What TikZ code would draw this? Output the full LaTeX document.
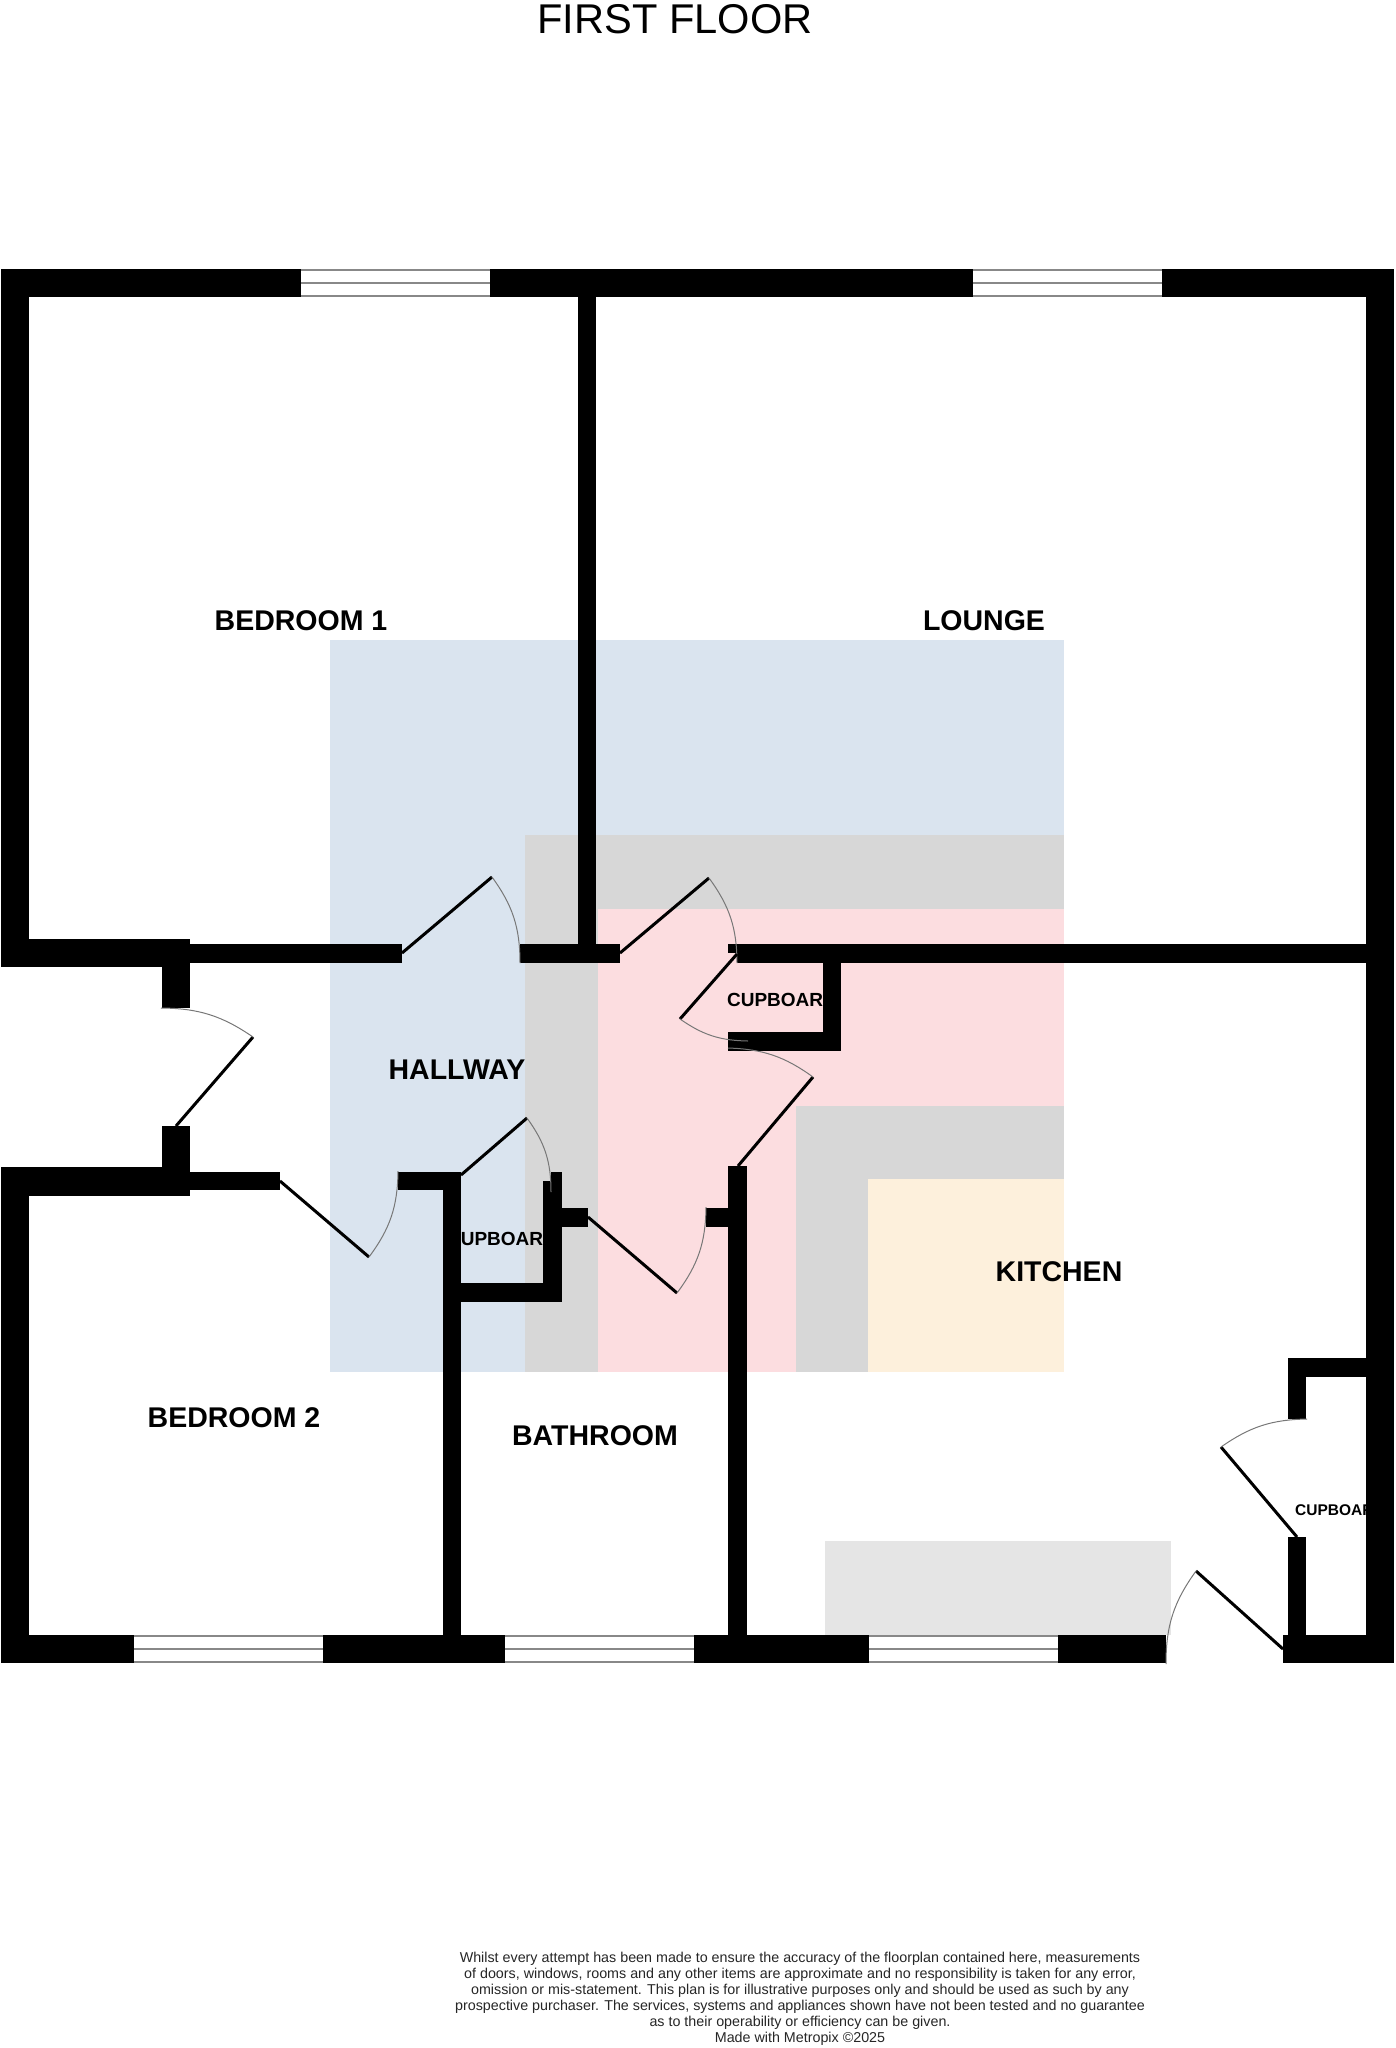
\documentclass[tikz,border=0pt]{standalone}
\usepackage{fontspec}
\setmainfont{Liberation Sans}

\definecolor{hallblue}{HTML}{DAE4EF}
\definecolor{midgrey}{HTML}{D7D7D7}
\definecolor{kitchenpink}{HTML}{FCDDE0}
\definecolor{creamy}{HTML}{FDF0DC}
\definecolor{paleworktop}{HTML}{E5E5E5}
\definecolor{frameline}{HTML}{888888}
\definecolor{swingline}{HTML}{777777}

\begin{document}
\begin{tikzpicture}
  [x=1pt,y=-1pt,
   roomlabel/.style={inner sep=0pt,font=\fontsize{28.5}{32}\selectfont\bfseries},
   cupboardlabel/.style={inner sep=0pt,font=\fontsize{19}{22}\selectfont\bfseries},
   leaf/.style={line width=3pt},
   swing/.style={swingline,line width=1pt}]
  \useasboundingbox (0,0) rectangle (1395,2048);

  \fill[hallblue] (330,640) rectangle (1064,1372);
  \fill[midgrey] (525,835) rectangle (1064,1372);
  \fill[kitchenpink] (598,909) rectangle (1064,1372);
  \fill[midgrey] (796,1106) rectangle (1064,1372);
  \fill[creamy] (868,1179) rectangle (1064,1372);
  \fill[paleworktop] (825,1541) rectangle (1171,1635);

  \node (title) at (675,19) {\fontsize{41.6}{44}\selectfont FIRST FLOOR};
  \node[roomlabel] (bed1) at (301,621) {BEDROOM 1};
  \node[roomlabel] (lounge) at (984,621) {LOUNGE};
  \node[roomlabel] (hall) at (457,1070) {HALLWAY};
  \node[roomlabel] (kitchen) at (1059,1272) {KITCHEN};
  \node[roomlabel] (bed2) at (234,1418) {BEDROOM 2};
  \node[roomlabel] (bath) at (595,1436) {BATHROOM};
  \node[cupboardlabel] (cup1) at (782,1000) {CUPBOARD};
  \node[cupboardlabel] (cup2) at (502,1239) {CUPBOARD};
  \node[inner sep=0pt,font=\fontsize{15.5}{18}\selectfont\bfseries] (cup3) at (1340,1510) {CUPBOARD};
  \node[anchor=north,inner sep=0pt,align=center,text=black!85,
        font=\fontsize{14.3}{16}\selectfont] (notice) at (800,1952)
    {Whilst every attempt has been made to ensure the accuracy of the floorplan contained here, measurements\\
     of doors, windows, rooms and any other items are approximate and no responsibility is taken for any error,\\
     omission or mis-statement. This plan is for illustrative purposes only and should be used as such by any\\
     prospective purchaser. The services, systems and appliances shown have not been tested and no guarantee\\
     as to their operability or efficiency can be given.\\
     Made with Metropix ©2025};

  \foreach \xa/\ya/\xb/\yb in {1/269/1394/297,1/269/29/967,578/297/596/963,1366/269/1394/1663,
      1/939/190/967,190/944/402/963,162/939/190/1008,520/944/620/963,
      728/944/737/953,737/944/1366/963,823/944/841/1051,728/1032/841/1051,
      1/1167/29/1663,1/1167/190/1196,162/1126/190/1196,190/1172/280/1190,
      398/1172/461/1190,443/1172/461/1663,443/1283/562/1302,543/1181/562/1302,
      551/1172/562/1181,562/1208/588/1227,706/1208/728/1227,728/1166/747/1663,
      1288/1358/1394/1377,1288/1358/1306/1419,1288/1537/1306/1635,
      1/1635/1166/1663,1283/1635/1394/1663}
    \fill[black] (\xa,\ya) rectangle (\xb,\yb);

  \foreach \xa/\ya in {301/269,973/269,134/1635,505/1635,869/1635}
  {
    \fill[white] (\xa,\ya) rectangle (\xa+189,\ya+28);
    \foreach \yo in {1,14,27}
      \draw[frameline,line width=2.5pt] (\xa,\ya+\yo) -- (\xa+189,\ya+\yo);
  }

  \foreach \hx/\hy/\tx/\ty/\ex/\ey/\bendby in {402/953/492/877/520/963/18,
      620/953/709/878/737/963/18,737/954/680/1019/748/1041/-17,
      738/1166/813/1077/728/1048/-17,461/1175/527/1118/551/1192/18,
      588/1217/677/1293/706/1207/-18,280/1181/369/1257/398/1171/-18,
      176/1126/253/1037/161/1008/-17,1297/1537/1221/1447/1307/1419/17,
      1283/1649/1196/1571/1166/1664/-18}
  {
    \draw[leaf] (\hx,\hy) -- (\tx,\ty);
    \draw[swing] (\tx,\ty) to[bend left=\bendby] (\ex,\ey);
  }
\end{tikzpicture}
\end{document}
